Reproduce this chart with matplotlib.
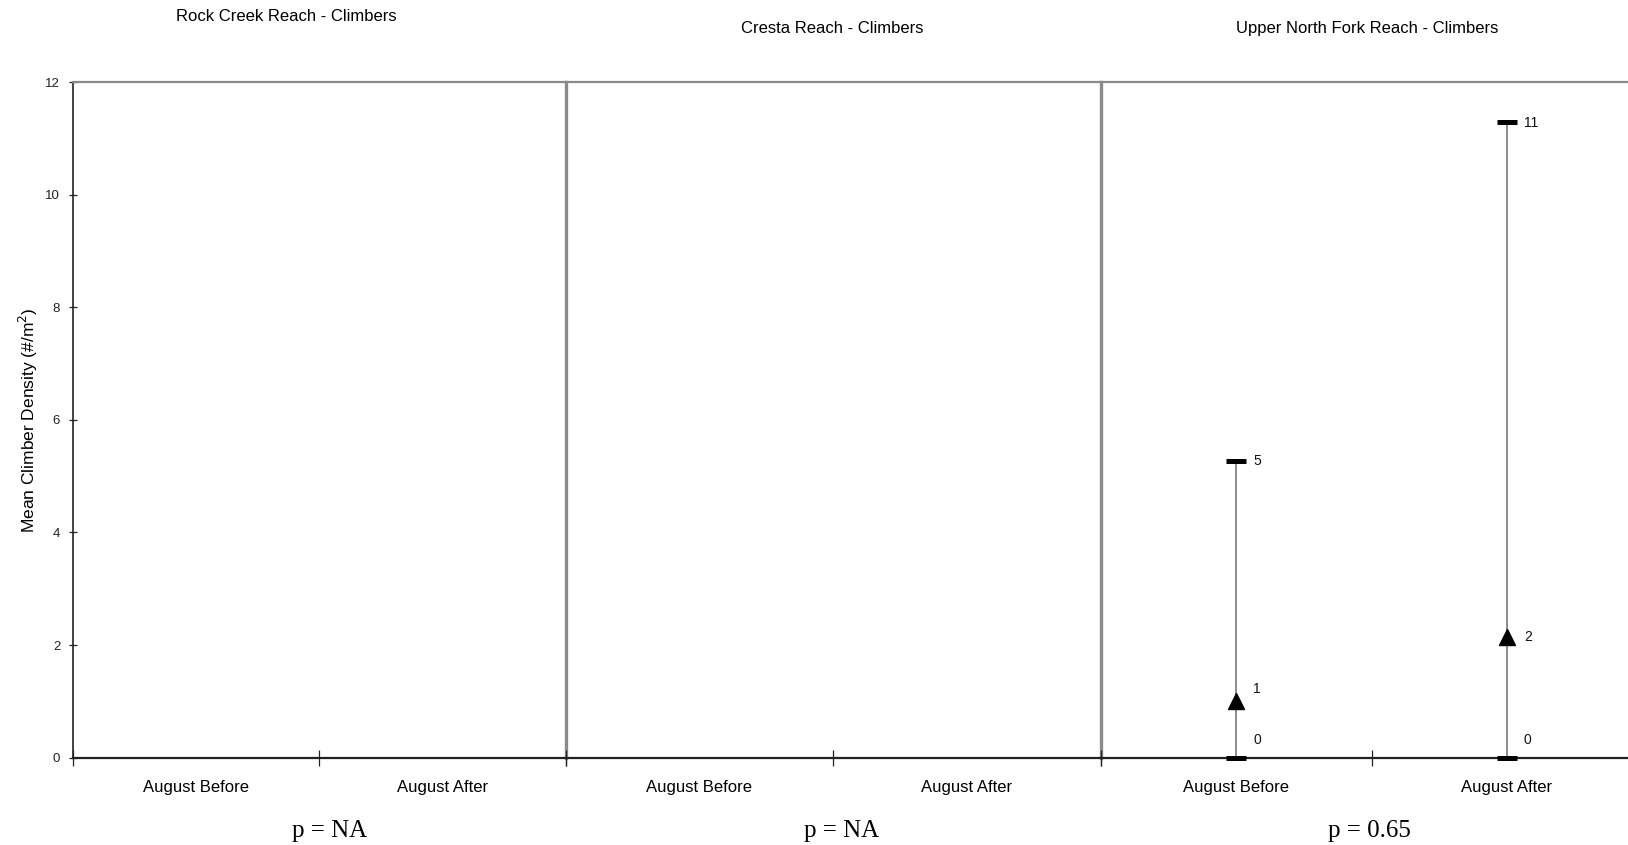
import numpy as np
import matplotlib
matplotlib.use("Agg")
import matplotlib.pyplot as plt
from matplotlib import font_manager

# data
reaches = ["Rock Creek Reach - Climbers", "Cresta Reach - Climbers",
           "Upper North Fork Reach - Climbers"]
periods = ["August Before", "August After"]
mean_density = [[np.nan, np.nan], [np.nan, np.nan], [1.0, 2.15]]
min_density = [[np.nan, np.nan], [np.nan, np.nan], [0.0, 0.0]]
max_density = [[np.nan, np.nan], [np.nan, np.nan], [5.27, 11.28]]
p_values = ["p = NA", "p = NA", "p = 0.65"]
y_ticks = [0, 2, 4, 6, 8, 10, 12]

# layout (figure pixels)
W, H = 1628, 845
panel_x = [(72.7, 565.7), (565.7, 1100.5), (1100.5, 1642.5)]
ax_bottom, ax_top = 757.7, 82.0
title_pos = [(286.6, 16.6), (832.7, 28.0), (1367.5, 28.0)]
p_pos = [(330, 831), (842, 831), (1369.5, 831)]
# label offsets in px (dx, dy) for min / mean / max
lab_off = {"min": (17, 18), "mean": [(17, 12), (17, 0)], "max": (17, 0)}

plt.rcParams['font.family'] = ['Liberation Sans', 'DejaVu Sans']
names = {f.name for f in font_manager.fontManager.ttflist}
narrow = 'Liberation Sans Narrow' if 'Liberation Sans Narrow' in names else 'Liberation Sans'

fig = plt.figure(figsize=(W / 100, 8.451), dpi=100)
grey = '#8a8a8a'

axes = []
for i, (x0, x1) in enumerate(panel_x):
    ax = fig.add_axes([x0 / W, (H - ax_bottom) / H, (x1 - x0) / W,
                       (ax_bottom - ax_top) / H])
    axes.append(ax)
    ax.patch.set_visible(False)
    ax.set_xlim(0, 2)
    ax.set_ylim(0, 12)
    ax.spines['top'].set_color(grey)
    ax.spines['top'].set_linewidth(1.6)
    ax.spines['right'].set_color(grey)
    ax.spines['right'].set_linewidth(2.4)
    ax.spines['bottom'].set_color('#222222')
    ax.spines['bottom'].set_linewidth(1.6)
    ax.spines['bottom'].set_zorder(5)
    if i == 0:
        ax.spines['left'].set_color('#222222')
        ax.spines['left'].set_linewidth(1.2)
        ax.set_yticks(y_ticks)
        ax.tick_params(axis='y', direction='inout', length=6, width=0.9,
                       labelsize=9.5, pad=6, colors='#222222')
        ax.set_ylabel('Mean Climber Density (#/m$^2$)', fontsize=12.5,
                      family=[narrow, 'DejaVu Sans'], labelpad=4)
    else:
        ax.spines['left'].set_visible(False)
        ax.set_yticks([])
    # category boundaries as major ticks, labels on minor ticks
    ax.set_xticks([0, 1, 2])
    ax.set_xticklabels([])
    ax.set_xticks([0.5, 1.5], minor=True)
    ax.set_xticklabels(periods, minor=True)
    ax.tick_params(axis='x', which='major', direction='inout', length=12,
                   width=0.9, colors='#222222')
    ax.tick_params(axis='x', which='minor', length=0, pad=16, labelsize=12)

    xs = np.array([0.5, 1.5])
    for j in range(len(periods)):
        lo, mu, hi = min_density[i][j], mean_density[i][j], max_density[i][j]
        if np.isnan(mu):
            continue
        ax.plot([xs[j], xs[j]], [lo, hi], color='#6e6e6e', lw=1.1, zorder=3,
                clip_on=False)
        ax.plot([xs[j], xs[j]], [lo, hi], ls='none', marker='_', ms=14,
                mew=3.6, color='black', zorder=6, clip_on=False)
        ax.plot(xs[j], mu, ls='none', marker='^', ms=11, color='black',
                zorder=6, clip_on=False)
        for val, off in [(lo, lab_off["min"]), (mu, lab_off["mean"][j]),
                         (hi, lab_off["max"])]:
            ax.annotate(f"{val:.0f}", (xs[j], val), xytext=(off[0] * 0.72, off[1] * 0.72),
                        textcoords='offset points', ha='left', va='center',
                        fontsize=10, color='#111111')

for (tx, ty), t in zip(title_pos, reaches):
    fig.text(tx / W, 1 - ty / H, t, ha='center', va='center', fontsize=12)

for (px, py), p in zip(p_pos, p_values):
    fig.text(px / W, 1 - py / H, p, ha='center', va='center', fontsize=18,
             family=['Liberation Serif', 'DejaVu Serif'])

fig.savefig('out.png', dpi=100)
